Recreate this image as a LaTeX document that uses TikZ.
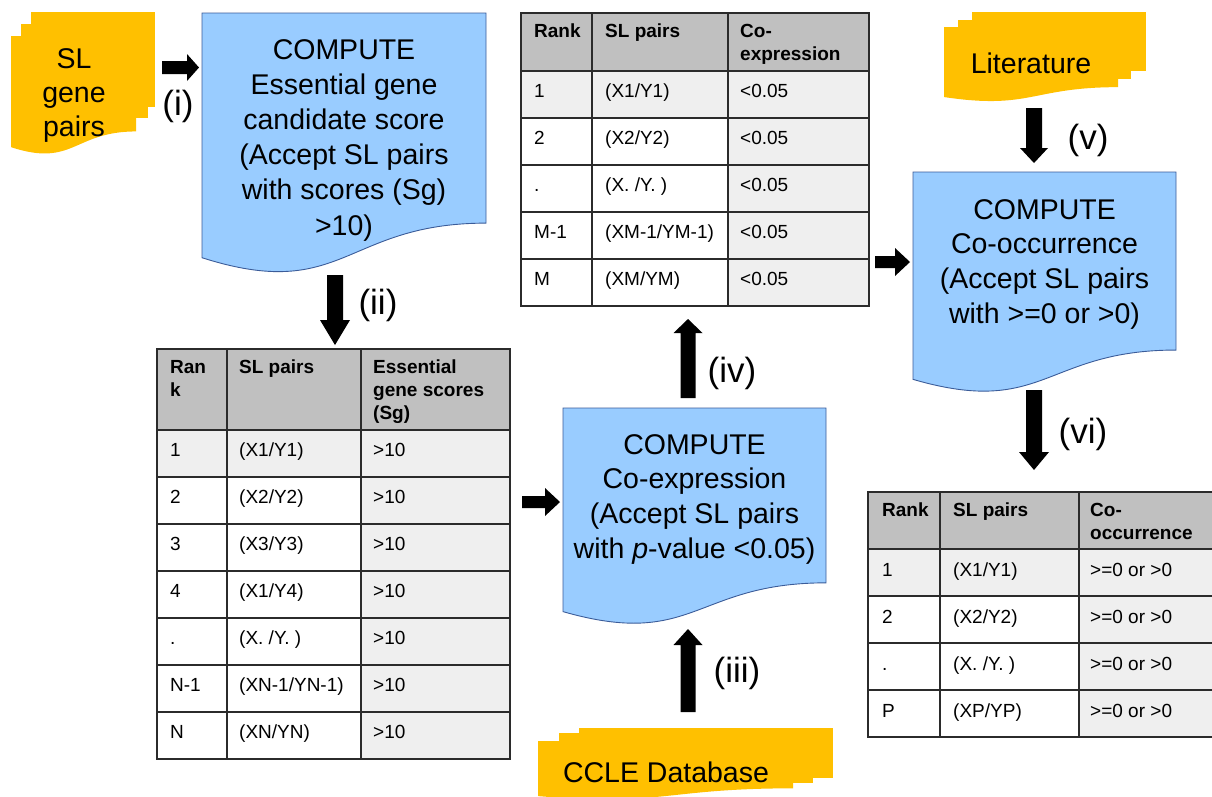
\documentclass[tikz,border=0pt]{standalone}
\usepackage{fontspec}
\setmainfont{Liberation Sans}
\usetikzlibrary{calc}
\definecolor{docblue}{HTML}{99CCFF}
\definecolor{docline}{HTML}{3B5C99}
\definecolor{orng}{HTML}{FFC000}
\definecolor{hdrgray}{HTML}{C0C0C0}
\definecolor{lgray}{HTML}{EFEFEF}
\definecolor{tlinec}{HTML}{2B2B2B}

\newcommand\ml[2]{\begin{tabular}[t]{@{}#1@{}}#2\end{tabular}}
% document shape: name, x, y, w, H
\newcommand\docshape[5]{%
  \filldraw[docstyle] (#2,#3) -- (#2+#4,#3) -- (#2+#4,#3+0.802*#5)
    .. controls (#2+0.5*#4,#3+0.802*#5) and (#2+0.5*#4,#3+1.107*#5) .. (#2,#3+0.934*#5) -- cycle;
  \node[boxnode, anchor=north west, minimum width=#4pt, minimum height=#5pt] (#1) at (#2,#3) {};
}
% front page of a multi-document (no outline)
\newcommand\frontpage[4]{%
  \fill[orng] (#1,#2) -- (#1+#3,#2) -- (#1+#3,#2+0.802*#4)
    .. controls (#1+0.5*#3,#2+0.802*#4) and (#1+0.5*#3,#2+1.107*#4) .. (#1,#2+0.934*#4) -- cycle;
}
% block arrow: start, end, half shaft, head length, half head width
\newcommand\blkarrow[5]{%
  \coordinate (hb) at ($(#2)!#4!(#1)$);
  \fill[black] ($(#1)!#3!90:(#2)$) -- ($(hb)!#3!-90:(#1)$) -- ($(hb)!#5!-90:(#1)$) -- (#2)
    -- ($(hb)!#5!90:(#1)$) -- ($(hb)!#3!90:(#1)$) -- ($(#1)!#3!-90:(#2)$) -- cycle;
}
\newcommand\trow[8]{%
  \node[bd] (#1a) at (#3,#2) {#6};
  \node[bd] (#1b) at (#4,#2) {#7};
  \node[bd] (#1c) at (#5,#2) {#8};
}

\begin{document}
\begin{tikzpicture}[x=1pt,y=-1pt,
  docstyle/.style={fill=docblue, draw=docline, line width=0.9pt},
  boxnode/.style={inner sep=0pt, outer sep=0pt},
  bigtxt/.style={anchor=base, inner sep=0pt},
  lbl/.style={anchor=base, inner sep=0pt, font=\fontsize{35}{40}\selectfont},
  hd/.style={anchor=base west, inner sep=0pt, font=\fontsize{19}{23}\bfseries\selectfont},
  bd/.style={anchor=base west, inner sep=0pt, font=\fontsize{19}{23}\selectfont},
  tline/.style={draw=tlinec, line width=1.5pt}]
\useasboundingbox (0,0) rectangle (1212,796);

% ---------- SL gene pairs ----------
\fill[orng] (31,12) rectangle (155,107);
\fill[orng] (21,24) rectangle (148,118);
\frontpage{11}{36}{125}{119}
\node[boxnode, anchor=north west, minimum width=144pt, minimum height=140pt] (sl) at (11,12) {};
\node[bigtxt, font=\fontsize{28.5}{34}\selectfont] (sltxt) at (74,68) {\ml{c}{SL\\gene\\pairs}};

% ---------- Literature ----------
\fill[orng] (972,12) rectangle (1146,71);
\fill[orng] (958,20) rectangle (1131,79);
\frontpage{944}{27}{174}{75}
\node[boxnode, anchor=north west, minimum width=202pt, minimum height=85pt] (lit) at (944,12) {};
\node[bigtxt, font=\fontsize{28.5}{34}\selectfont] (littxt) at (1031,73) {Literature};

% ---------- CCLE Database ----------
\fill[orng] (579,728) rectangle (833,778);
\fill[orng] (559,733) rectangle (813,783);
\frontpage{538}{741}{255}{59}
\node[boxnode, anchor=north west, minimum width=295pt, minimum height=68pt] (ccle) at (538,728) {};
\node[bigtxt, font=\fontsize{28.5}{34}\selectfont] (ccletxt) at (666,782) {CCLE Database};

% ---------- COMPUTE documents ----------
\docshape{c1}{202}{13}{284}{262}
\node[bigtxt, font=\fontsize{28.5}{35.2}\selectfont] (c1txt) at (344,59)
  {\ml{c}{COMPUTE\\Essential gene\\candidate score\\(Accept SL pairs\\with scores (Sg)\\>10)}};

\docshape{c2}{563}{408}{263}{218}
\node[bigtxt, font=\fontsize{28.5}{34.7}\selectfont] (c2txt) at (694.5,454)
  {\ml{c}{COMPUTE\\Co-expression\\(Accept SL pairs\\with \textit{p}-value <0.05)}};

\docshape{c3}{913}{172}{263}{222}
\node[bigtxt, font=\fontsize{28.5}{34.7}\selectfont] (c3txt) at (1044.5,219)
  {\ml{c}{COMPUTE\\Co-occurrence\\(Accept SL pairs\\with >=0 or >0)}};

% ---------- Table 1 ----------
\fill[hdrgray] (157,349) rectangle (510,430);
\fill[lgray] (157,430) rectangle (510,477);
\fill[lgray] (361,477) rectangle (510,759);
\foreach \yy in {430,477,524,571,618,665,712} \draw[tline] (157,\yy) -- (510,\yy);
\foreach \xx in {227,361} \draw[tline] (\xx,349) -- (\xx,759);
\draw[tline] (157,349) rectangle (510,759);
\node[boxnode, anchor=north west, minimum width=353pt, minimum height=410pt] (t1) at (157,349) {};
\node[hd] (t1h1) at (170,373) {\ml{l}{Ran\\k}};
\node[hd] (t1h2) at (239,373) {SL pairs};
\node[hd] (t1h3) at (373,373) {\ml{l}{Essential\\gene scores\\(Sg)}};
\trow{t1r1}{456}{170}{239}{373}{1}{(X1/Y1)}{>10}
\trow{t1r2}{503}{170}{239}{373}{2}{(X2/Y2)}{>10}
\trow{t1r3}{550}{170}{239}{373}{3}{(X3/Y3)}{>10}
\trow{t1r4}{597}{170}{239}{373}{4}{(X1/Y4)}{>10}
\trow{t1r5}{644}{170}{239}{373}{.}{(X. /Y. )}{>10}
\trow{t1r6}{691}{170}{239}{373}{N-1}{(XN-1/YN-1)}{>10}
\trow{t1r7}{738}{170}{239}{373}{N}{(XN/YN)}{>10}

% ---------- Table 2 ----------
\fill[hdrgray] (521,13) rectangle (869,71);
\fill[lgray] (521,71) rectangle (869,118);
\fill[lgray] (728,118) rectangle (869,306);
\foreach \yy in {71,118,165,212,259} \draw[tline] (521,\yy) -- (869,\yy);
\foreach \xx in {592,728} \draw[tline] (\xx,13) -- (\xx,306);
\draw[tline] (521,13) rectangle (869,306);
\node[boxnode, anchor=north west, minimum width=348pt, minimum height=293pt] (t2) at (521,13) {};
\node[hd] (t2h1) at (534,37) {Rank};
\node[hd] (t2h2) at (605,37) {SL pairs};
\node[hd] (t2h3) at (740,37) {\ml{l}{Co-\\expression}};
\trow{t2r1}{97}{534}{605}{740}{1}{(X1/Y1)}{<0.05}
\trow{t2r2}{144}{534}{605}{740}{2}{(X2/Y2)}{<0.05}
\trow{t2r3}{191}{534}{605}{740}{.}{(X. /Y. )}{<0.05}
\trow{t2r4}{238}{534}{605}{740}{M-1}{(XM-1/YM-1)}{<0.05}
\trow{t2r5}{285}{534}{605}{740}{M}{(XM/YM)}{<0.05}

% ---------- Table 3 ----------
\fill[hdrgray] (868,492) rectangle (1214,549);
\fill[lgray] (868,549) rectangle (1214,596);
\fill[lgray] (1079,596) rectangle (1214,737);
\foreach \yy in {549,596,643,690} \draw[tline] (868,\yy) -- (1214,\yy);
\foreach \xx in {940,1079} \draw[tline] (\xx,492) -- (\xx,737);
\draw[tline] (868,492) rectangle (1214,737);
\node[boxnode, anchor=north west, minimum width=346pt, minimum height=245pt] (t3) at (868,492) {};
\node[hd] (t3h1) at (882,516) {Rank};
\node[hd] (t3h2) at (953,516) {SL pairs};
\node[hd] (t3h3) at (1090,516) {\ml{l}{Co-\\occurrence}};
\trow{t3r1}{576}{882}{953}{1090}{1}{(X1/Y1)}{>=0 or >0}
\trow{t3r2}{623}{882}{953}{1090}{2}{(X2/Y2)}{>=0 or >0}
\trow{t3r3}{670}{882}{953}{1090}{.}{(X. /Y. )}{>=0 or >0}
\trow{t3r4}{717}{882}{953}{1090}{P}{(XP/YP)}{>=0 or >0}

% ---------- connectors (block arrows) ----------
\coordinate (a1s) at (162,67.5);  \coordinate (a1e) at (199,67.5);
\blkarrow{a1s}{a1e}{6.5pt}{12pt}{13.5pt}
\coordinate (a2s) at (335,275);   \coordinate (a2e) at (335,345);
\blkarrow{a2s}{a2e}{8pt}{25pt}{15pt}
\coordinate (a3s) at (522,502);   \coordinate (a3e) at (560,502);
\blkarrow{a3s}{a3e}{6pt}{15pt}{14pt}
\coordinate (a4s) at (688,712);   \coordinate (a4e) at (688,629);
\blkarrow{a4s}{a4e}{7.5pt}{16pt}{14.5pt}
\coordinate (a5s) at (688,398);   \coordinate (a5e) at (688,319);
\blkarrow{a5s}{a5e}{7.5pt}{14pt}{14.5pt}
\coordinate (a6s) at (875,262);   \coordinate (a6e) at (910,262);
\blkarrow{a6s}{a6e}{6pt}{15pt}{14pt}
\coordinate (a7s) at (1034,108);  \coordinate (a7e) at (1034,163);
\blkarrow{a7s}{a7e}{8pt}{15pt}{14pt}
\coordinate (a8s) at (1034,390);  \coordinate (a8e) at (1034,470);
\blkarrow{a8s}{a8e}{8pt}{18pt}{15pt}

% ---------- labels ----------
\node[lbl] (l1) at (178,115) {(i)};
\node[lbl] (l2) at (378,314) {(ii)};
\node[lbl] (l3) at (737,682) {(iii)};
\node[lbl] (l4) at (732,382) {(iv)};
\node[lbl] (l5) at (1088,149) {(v)};
\node[lbl] (l6) at (1083,443) {(vi)};
\end{tikzpicture}
\end{document}
